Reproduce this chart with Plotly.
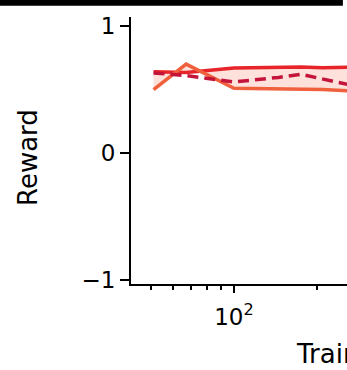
import plotly.graph_objects as go

# ---- data ----
train_steps = [51, 67, 100, 145, 175, 210, 260]
reward_mean = [0.63, 0.61, 0.56, 0.595, 0.62, 0.58, 0.54]
reward_upper = [0.64, 0.635, 0.67, 0.672, 0.678, 0.672, 0.675]
reward_lower = [0.50, 0.70, 0.51, 0.505, 0.505, 0.50, 0.49]

y_tick_vals = [-1, 0, 1]
y_tick_text = ["\u22121", "0", "1"]
x_tick_vals = [100]
x_tick_text = ["10<sup>2</sup>"]
x_minor_vals = [50, 60, 70, 80, 90, 200, 300]

FONT = "DejaVu Sans"

fig = go.Figure()

fig.add_trace(go.Scatter(
    x=train_steps, y=reward_upper, mode="lines",
    line=dict(color="#e6242a", width=3.5), showlegend=False))
fig.add_trace(go.Scatter(
    x=train_steps, y=reward_lower, mode="lines",
    line=dict(color="#f0603c", width=3.5),
    fill="tonexty", fillcolor="rgba(248,170,150,0.35)", showlegend=False))
fig.add_trace(go.Scatter(
    x=train_steps, y=reward_mean, mode="lines",
    line=dict(color="#c4143a", width=3.5, dash="11px,6px"), showlegend=False))

fig.update_layout(
    width=347, height=370,
    margin=dict(l=131, r=0, t=17, b=86),
    plot_bgcolor="white", paper_bgcolor="white",
    font=dict(family=FONT, color="black"),
    xaxis=dict(
        type="log", range=[1.6255, 2.411],
        showgrid=False, zeroline=False,
        showline=True, linecolor="black", linewidth=2,
        ticks="outside", ticklen=7, tickwidth=2, tickcolor="black",
        tickmode="array", tickvals=x_tick_vals, ticktext=x_tick_text,
        tickfont=dict(family=FONT, size=23, color="black"),
        ticklabelstandoff=4,
        minor=dict(ticks="outside", ticklen=4, tickwidth=1.5, tickcolor="black",
                   tickmode="array", tickvals=x_minor_vals, showgrid=False),
    ),
    yaxis=dict(
        range=[-1.031, 1.071],
        showgrid=False, zeroline=False,
        showline=True, linecolor="black", linewidth=2,
        ticks="outside", ticklen=9, tickwidth=2, tickcolor="black",
        tickmode="array", tickvals=y_tick_vals, ticktext=y_tick_text,
        tickfont=dict(family=FONT, size=23, color="black"),
    ),
    annotations=[
        dict(text="Reward", textangle=-90, xref="paper", yref="paper",
             x=-0.4769, y=0.4757, xanchor="center", yanchor="middle",
             showarrow=False, font=dict(family=FONT, size=26, color="black")),
        dict(text="Training steps", xref="paper", yref="paper",
             x=0.7546, y=-0.199, xanchor="left", yanchor="top",
             showarrow=False, font=dict(family=FONT, size=26, color="black")),
    ],
    shapes=[
        dict(type="rect", xref="paper", yref="paper",
             x0=-0.6065, x1=0.981, y0=1.042, y1=1.08,
             fillcolor="black", line=dict(width=0), layer="above"),
    ],
)

fig.write_html("out.html",
               config={"displayModeBar": False},
               post_script="document.body.style.margin='0';")
